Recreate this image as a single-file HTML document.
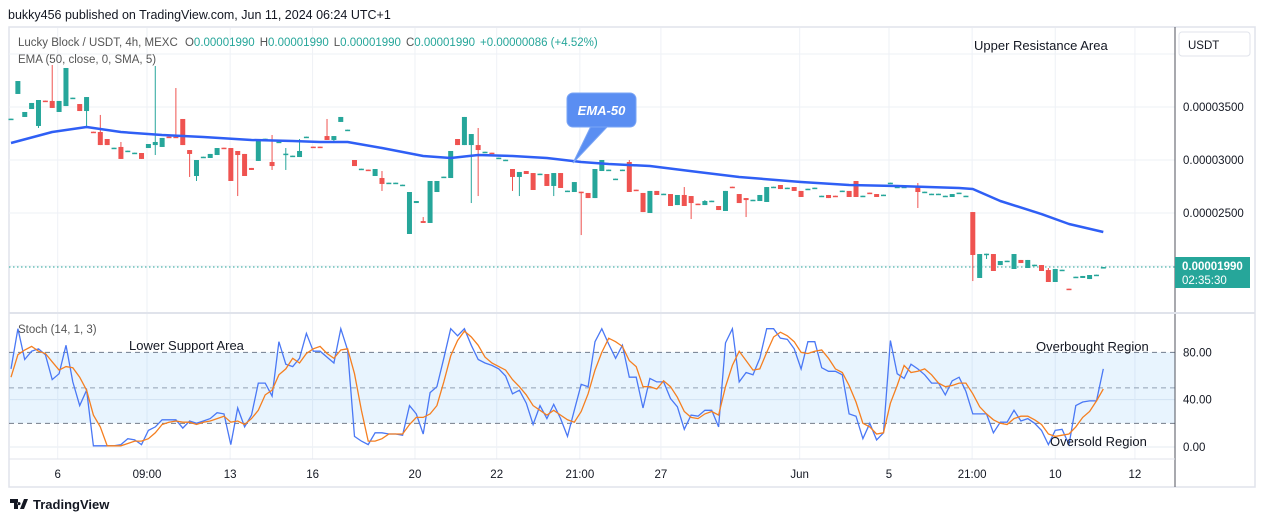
<!DOCTYPE html>
<html><head><meta charset="utf-8"><style>
html,body{margin:0;padding:0;background:#fff;}
body{width:1265px;height:522px;overflow:hidden;font-family:"Liberation Sans",sans-serif;}
svg text{font-family:"Liberation Sans",sans-serif;}
</style></head><body>
<svg id="chart" width="1265" height="522" viewBox="0 0 1265 522" xmlns="http://www.w3.org/2000/svg">
<rect x="0" y="0" width="1265" height="522" fill="#fff"/>
<text x="8" y="19" font-size="12.5" fill="#131722">bukky456 published on TradingView.com, Jun 11, 2024 06:24 UTC+1</text>
<rect x="9" y="27" width="1246" height="460" fill="none" stroke="#e0e3eb" stroke-width="1.5"/>
<g id="grid"></g>
<rect x="9" y="352.3" width="1166" height="71" fill="#2196f3" fill-opacity="0.1"/>
<g id="marks"></g>
<line x1="1175" y1="27" x2="1175" y2="487" stroke="#50535e" stroke-width="1"/>
<line x1="9" y1="313" x2="1255" y2="313" stroke="#e0e3eb" stroke-width="2"/>
<line x1="9" y1="459" x2="1175" y2="459" stroke="#e0e3eb" stroke-width="1"/>
<g id="legend" font-size="11.5">
<text x="18" y="46" fill="#555"><tspan>Lucky Block / USDT, 4h, MEXC </tspan><tspan dx="4">O</tspan><tspan fill="#26a69a">0.00001990</tspan><tspan dx="5">H</tspan><tspan fill="#26a69a">0.00001990</tspan><tspan dx="5">L</tspan><tspan fill="#26a69a">0.00001990</tspan><tspan dx="5">C</tspan><tspan fill="#26a69a">0.00001990</tspan><tspan dx="5" fill="#26a69a">+0.00000086 (+4.52%)</tspan></text>
<text x="18" y="63" fill="#555">EMA (50, close, 0, SMA, 5)</text>
<text x="18" y="333" fill="#555">Stoch (14, 1, 3)</text>
</g>
<text x="974" y="50" font-size="13" fill="#131722">Upper Resistance Area</text>
<text x="129" y="350" font-size="13" fill="#131722">Lower Support Area</text>
<text x="1036" y="351" font-size="13" fill="#131722">Overbought Region</text>
<text x="1050" y="446" font-size="13" fill="#131722">Oversold Region</text>
<g>
<path d="M573,163 L591,126 L608,126 Z" fill="#5a8ef2" stroke="#7aa5f5" stroke-width="1"/>
<rect x="567" y="93" width="69" height="34" rx="6" fill="#5a8ef2" stroke="#7aa5f5" stroke-width="1"/>
<text x="601.5" y="115" font-size="13" font-style="italic" font-weight="bold" fill="#fff" text-anchor="middle">EMA-50</text>
</g>
<rect x="1179" y="32" width="71" height="24" rx="3" fill="#fff" stroke="#e0e3eb"/>
<text x="1188" y="49" font-size="11.5" fill="#131722">USDT</text>
<g id="paxis" font-size="11.5" fill="#131722"></g>
<rect x="1175" y="257" width="75" height="31" fill="#26a69a"/>
<text x="1182" y="270" font-size="11.5" fill="#fff" font-weight="bold">0.00001990</text>
<text x="1182" y="284" font-size="11.5" fill="#fff">02:35:30</text>
<g id="taxis" font-size="11.5" fill="#131722"></g>
<g>
<path d="M10,499 h8 v10 h-4 v-6 h-4 z M20,509 l4,-10 h4 l-4,10 z M19,502 a1.6,1.6 0 1 0 0.01,0" fill="#131722"/>
<text x="33" y="509" font-size="13" font-weight="bold" fill="#131722">TradingView</text>
</g>
</svg>
<script>
const opens=[3384,3623,3406,3481,3321,3560,3557,3453,3509,3582,3528,3462,3267,3264,3198,3110,3123,3082,3063,3066,3113,3141,3123,3220,3220,3387,3094,2849,3025,3019,3047,3116,3113,3085,3057,2925,2991,3195,2981,3167,3054,3035,3028,3214,3126,3126,3226,3189,3359,3280,3000,2912,2909,2849,2830,2780,2780,2761,2302,2594,2424,2406,2698,2837,2830,3198,3141,3141,3141,3072,3069,3016,2997,2915,2840,2896,2877,2865,2868,2755,2877,2705,2698,2701,2689,2641,2896,2903,2818,2903,2981,2720,2689,2500,2708,2676,2679,2575,2670,2660,2588,2575,2610,2566,2519,2748,2679,2641,2619,2613,2604,2742,2764,2733,2745,2708,2723,2733,2657,2670,2663,2705,2708,2802,2657,2692,2679,2667,2780,2742,2742,2752,2755,2695,2676,2676,2657,2651,2686,2657,2509,1887,2110,2113,2009,2044,1972,2057,1981,2006,2009,1962,1849,1959,1786,1893,1887,1877,1912,1984];
const closes=[3390,3745,3453,3538,3566,3554,3491,3557,3868,3588,3462,3594,3261,3141,3141,3116,3010,3088,3069,3010,3151,3170,3208,3214,3214,3141,3057,3000,3031,3057,3113,3110,2802,3047,2849,2906,3198,3201,2943,3173,3060,3041,3085,3220,3120,3120,3189,3226,3406,3286,2943,2918,2903,2915,2774,2786,2786,2767,2698,2613,2406,2802,2802,2843,3085,3141,3406,3245,3094,3078,3063,3022,3003,2840,2887,2868,2717,2871,2755,2877,2736,2711,2792,2695,2641,2915,3000,2909,2824,2909,2698,2714,2509,2708,2670,2682,2566,2670,2566,2594,2582,2613,2616,2528,2708,2742,2594,2622,2625,2670,2745,2748,2726,2739,2708,2651,2729,2739,2663,2641,2657,2711,2651,2651,2663,2686,2651,2673,2786,2748,2748,2758,2698,2701,2682,2682,2663,2679,2692,2663,2104,2113,2116,1953,2047,2050,2113,2028,2057,2012,1953,1849,1972,1965,1780,1899,1906,1915,1918,1990];
const highs=[3390,3745,3453,3538,3566,3560,3896,3557,3868,3588,3528,3594,3267,3425,3198,3116,3170,3088,3069,3066,3151,3887,3208,3220,3679,3387,3094,3000,3031,3057,3113,3116,3113,3085,3057,2925,3198,3201,3236,3173,3113,3041,3198,3220,3126,3126,3387,3226,3406,3286,3000,2918,2909,2915,2896,2786,2786,2767,2698,2613,2462,2802,2802,2843,3085,3198,3406,3245,3302,3078,3069,3022,3003,2915,2887,2896,2877,2871,2868,2877,2877,2711,2792,2701,2689,2915,3000,2909,2824,2909,3000,2720,2689,2708,2708,2682,2679,2670,2745,2660,2588,2622,2616,2566,2708,2748,2679,2641,2625,2670,2745,2748,2764,2739,2745,2708,2729,2739,2663,2670,2663,2711,2708,2802,2663,2692,2679,2673,2786,2748,2748,2758,2783,2701,2682,2682,2663,2679,2692,2663,2509,2113,2116,2113,2047,2050,2113,2057,2057,2012,2009,1981,1972,1965,1786,1899,1906,1915,1918,1990];
const lows=[3384,3623,3406,3481,3302,3554,3491,3453,3509,3582,3462,3302,3261,3141,3141,3110,3010,3082,3063,3010,3113,3047,3123,3214,3214,3141,2840,2802,3025,3019,3047,3110,2802,2660,2849,2906,2991,3195,2906,3167,2906,3035,3028,3214,3120,3120,3189,3160,3359,3280,2943,2912,2903,2849,2708,2780,2780,2761,2302,2594,2406,2406,2698,2837,2830,3141,3141,2594,2660,3072,3063,3016,2997,2708,2660,2868,2717,2865,2755,2660,2736,2705,2698,2292,2641,2641,2896,2903,2818,2903,2698,2714,2509,2500,2670,2676,2566,2575,2566,2443,2582,2575,2610,2528,2519,2742,2594,2462,2619,2613,2604,2742,2726,2733,2708,2651,2723,2733,2657,2641,2657,2705,2651,2651,2657,2686,2651,2667,2780,2742,2742,2752,2547,2695,2676,2676,2657,2651,2686,2657,1858,1887,2066,1953,2009,2044,1972,2028,1981,2006,1953,1849,1849,1959,1780,1893,1887,1877,1912,1984];
const emaIdx=[0,6,11,16,22,28,35,41,45,49,54,60,64,68,73,78,83,87,93,100,106,115,122,129,138,140,144,150,154,159];
const emaVal=[3160,3264,3311,3264,3236,3217,3189,3179,3170,3170,3113,3038,3019,3047,3038,3019,2981,2962,2943,2887,2840,2792,2764,2755,2736,2726,2613,2490,2396,2321];
const stochK=[66,100,74,81,83,78,57,62,86,55,35,48,1,1,1,1,2,7,6,2,14,17,23,23,23,16,22,20,22,24,29,28,2,33,17,27,54,54,43,89,70,68,75,96,81,81,76,71,100,82,9,5,2,12,12,
11,11,10,35,28,11,46,51,75,100,94,100,86,74,71,69,66,60,45,48,37,19,35,24,36,24,9,31,53,51,89,100,87,75,86,59,59,33,58,55,55,41,34,15,27,26,31,31,17,88,100,55,63,61,
75,100,100,92,91,83,66,89,89,67,64,64,61,28,26,7,20,6,12,90,62,58,70,66,61,54,54,44,56,59,47,28,28,28,12,21,21,31,22,24,20,14,2,14,15,2,35,38,39,39,66];
const stochD=[59,78,82,85,81,79,72,65,68,67,59,48,27,17,1,1,1,3,5,5,7,12,19,21,22,21,21,19,21,22,24,26,21,22,19,24,31,44,48,61,66,75,71,79,83,85,79,75,82,83,62,31,5,5,7,
11,11,11,19,25,25,28,35,55,77,90,98,93,86,76,71,68,65,57,51,44,35,31,27,31,27,23,21,30,45,65,80,92,89,85,73,68,51,51,49,56,51,42,30,25,24,28,30,27,51,69,81,73,65,
66,80,93,97,94,89,80,79,81,82,75,66,63,52,38,20,17,11,12,37,52,69,63,64,66,61,54,51,52,54,54,45,34,28,23,20,19,24,26,26,23,19,11,9,10,11,17,25,30,39,49];
const priceTicks=[3500,3000,2500];
const priceTickLabels=["0.00003500","0.00003000","0.00002500"];
const stochTicks=[80,40,0];
const stochTickLabels=["80.00","40.00","0.00"];
const timeLabels=["6","09:00","13","16","20","22","21:00","27","Jun","5","21:00","10","12"];
const timeIdx=[6.8,19.8,31.9,43.9,58.8,70.7,82.8,94.6,114.8,127.8,139.9,152,163.6];
const lastPrice=1990;

const NS="http://www.w3.org/2000/svg";
function xS(i){return 11+6.87*i;}
function yP(p){return 107+(3500-p)*0.106;}
function yS(v){return 447-v*1.183;}
function mk(tag,attrs,parent){const e=document.createElementNS(NS,tag);for(const k in attrs)e.setAttribute(k,attrs[k]);parent.appendChild(e);return e;}
const grid=document.getElementById('grid');
const marks=document.getElementById('marks');
const paxis=document.getElementById('paxis');
const taxis=document.getElementById('taxis');
// grid
[4000,3500,3000,2500,2000].forEach(p=>{const l=mk('line',{x1:9,x2:1175,y1:yP(p),y2:yP(p),stroke:'#eef1f6','stroke-width':1},grid);

});
[40,0].forEach(v=>{const l=mk('line',{x1:9,x2:1175,y1:yS(v),y2:yS(v),stroke:'#e6ebf2','stroke-width':1},grid);

});
timeIdx.forEach((t,k)=>{const x=xS(t);const l=mk('line',{x1:x,x2:x,y1:28,y2:459,stroke:'#eef1f6','stroke-width':1},grid);


const tx=mk('text',{x:x,y:478,'text-anchor':'middle'},taxis);tx.textContent=timeLabels[k];

});
[80,50,20].forEach(v=>{const l=mk('line',{x1:9,x2:1175,y1:yS(v),y2:yS(v),stroke:v===50?'#a0a4ad':'#787b86','stroke-width':1,'stroke-dasharray':'5,4'},grid);

});
// price axis
priceTicks.forEach((p,k)=>{const t=mk('text',{x:1183,y:yP(p)+4},paxis);t.textContent=priceTickLabels[k];

});
stochTicks.forEach((v,k)=>{const t=mk('text',{x:1183,y:yS(v)+4},paxis);t.textContent=stochTickLabels[k];

});
// last price line
const lp=mk('line',{x1:9,x2:1175,y1:yP(lastPrice),y2:yP(lastPrice),stroke:'#26a69a','stroke-width':1,'stroke-dasharray':'1.5,2.5'},marks);


// candles
const cg=mk('g',{},marks);


for(let i=0;i<opens.length;i++){
 const o=opens[i],c=closes[i],x=xS(i);const col=c>=o?'#26a69a':'#ef5350';
 const w=mk('line',{x1:x,x2:x,y1:yP(highs[i]),y2:yP(lows[i]),stroke:col,'stroke-width':1},cg);
 
 
 const yt=Math.min(yP(o),yP(c));const h=Math.max(1.5,Math.abs(yP(o)-yP(c)));
 const b=mk('rect',{x:x-2.5,y:yt,width:5,height:h,fill:col},cg);
 
 
}
// EMA
const ep=emaIdx.map((t,k)=>xS(t).toFixed(1)+','+yP(emaVal[k]).toFixed(1)).join(' ');
const ema=mk('polyline',{points:ep,fill:'none',stroke:'#2f5ff5','stroke-width':2.5,'stroke-linejoin':'round'},marks);


// stoch
const kp=stochK.map((v,i)=>xS(i).toFixed(1)+','+yS(v).toFixed(1)).join(' ');
const dp=stochD.map((v,i)=>xS(i).toFixed(1)+','+yS(v).toFixed(1)).join(' ');
const kl=mk('polyline',{points:kp,fill:'none',stroke:'#4a78f5','stroke-width':1.3},marks);


const dl=mk('polyline',{points:dp,fill:'none',stroke:'#f57f20','stroke-width':1.3},marks);


</script>
</body></html>
